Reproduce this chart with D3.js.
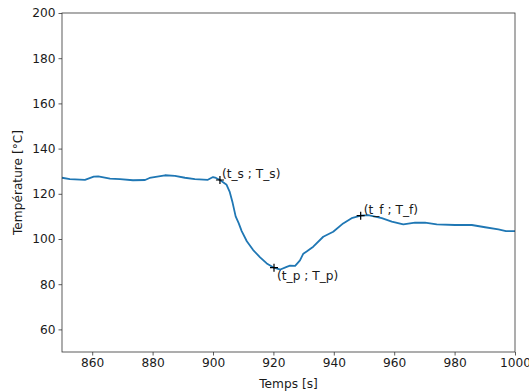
<!DOCTYPE html>
<html><head><meta charset="utf-8">
<script src="https://cdn.jsdelivr.net/npm/d3@7"></script>
<style>
html,body{margin:0;padding:0;background:#fff;}
svg{display:block;font-family:"DejaVu Sans",sans-serif;}
</style></head>
<body><svg id="c" width="529" height="392"></svg>
<script>
const times = [850, 852.6, 857.6, 860.5, 862, 865.9, 869.2, 873.5, 877.5, 879, 884.1, 887.4, 890.7, 894, 898.3, 900, 901, 902.3, 904.5, 905.5, 906.5, 907.5, 908.5, 909.5, 911.2, 913.3, 915.6, 917.8, 920.2, 922.3, 924.4, 925.5, 927.2, 928.8, 929.9, 931, 933.2, 936.5, 939.8, 943.1, 945.9, 948.9, 951.4, 955.9, 959.2, 963, 966.9, 970.2, 974.1, 980.1, 985.7, 990.1, 994.5, 997, 1000];
const temps = [127.1, 126.5, 126.2, 127.6, 127.7, 126.7, 126.5, 126.0, 126.1, 127.0, 128.2, 127.9, 127.1, 126.5, 126.2, 127.4, 127.0, 126.1, 124.0, 121.0, 116.0, 110.0, 107.0, 103.5, 99.0, 95.1, 91.9, 89.2, 87.3, 86.5, 87.7, 88.2, 88.1, 90.5, 93.5, 94.5, 96.6, 101.0, 103.2, 106.9, 109.2, 110.3, 110.6, 109.2, 107.7, 106.5, 107.2, 107.2, 106.5, 106.2, 106.2, 105.2, 104.3, 103.5, 103.5];
const markerTimes = [902.3, 920.2, 948.9];
const markerTemps = [126.1, 87.3, 110.3];
const markerLabels = ["(t_s ; T_s)", "(t_p ; T_p)", "(t_f ; T_f)"];
const xTicks = [860, 880, 900, 920, 940, 960, 980, 1000];
const yTicks = [60, 80, 100, 120, 140, 160, 180, 200];
const xLabel = "Temps [s]";
const yLabel = "Température [°C]";

const m = {l:62, r:515, t:13, b:352};
const svg = d3.select("#c");
const x = d3.scaleLinear().domain([850, 1000]).range([m.l, m.r]);
const y = d3.scaleLinear().domain([50, 200]).range([m.b, m.t]);
const fs = 12.2, txt = "#1a1a1a", ax = "#333";

const line = d3.line().x((d,i)=>x(times[i])).y((d,i)=>y(temps[i]));
svg.append("path").datum(temps).attr("d", line).attr("fill","none")
  .attr("stroke","#1f77b4").attr("stroke-width",1.8).attr("stroke-linejoin","round").attr("stroke-linecap","butt");

// markers
const ms = 4;
markerTimes.forEach((t,i)=>{
  const cx = x(t), cy = y(markerTemps[i]);
  svg.append("path").attr("d",`M${cx-ms},${cy}H${cx+ms}M${cx},${cy-ms}V${cy+ms}`)
    .attr("stroke","#000").attr("stroke-width",1.2).attr("fill","none");
});
const offs = [[2,-2],[3,12],[3,-2]];
markerLabels.forEach((s,i)=>{
  svg.append("text").attr("x", x(markerTimes[i])+offs[i][0]).attr("y", y(markerTemps[i])+offs[i][1])
    .attr("font-size",fs).attr("fill",txt).text(s);
});

// axes
const xa = svg.append("g").attr("transform",`translate(0,${m.b})`)
  .call(d3.axisBottom(x).tickValues(xTicks).tickSize(3.5).tickPadding(3).tickFormat(d3.format("d")));
const ya = svg.append("g").attr("transform",`translate(${m.l},0)`)
  .call(d3.axisLeft(y).tickValues(yTicks).tickSize(3.5).tickPadding(3).tickFormat(d3.format("d")));
[xa,ya].forEach(g=>{
  g.select(".domain").remove();
  g.selectAll(".tick line").attr("stroke",ax).attr("stroke-width",0.8);
  g.selectAll(".tick text").attr("font-size",fs).attr("fill",txt).attr("font-family","DejaVu Sans");
});
svg.append("rect").attr("x",m.l).attr("y",m.t).attr("width",m.r-m.l).attr("height",m.b-m.t)
  .attr("fill","none").attr("stroke",ax).attr("stroke-width",0.8);

svg.append("text").attr("x",(m.l+m.r)/2).attr("y",388).attr("text-anchor","middle")
  .attr("font-size",fs).attr("fill",txt).text(xLabel);
svg.append("text").attr("transform",`translate(22,${(m.t+m.b)/2}) rotate(-90)`).attr("text-anchor","middle")
  .attr("font-size",fs).attr("fill",txt).text(yLabel);
</script></body></html>
